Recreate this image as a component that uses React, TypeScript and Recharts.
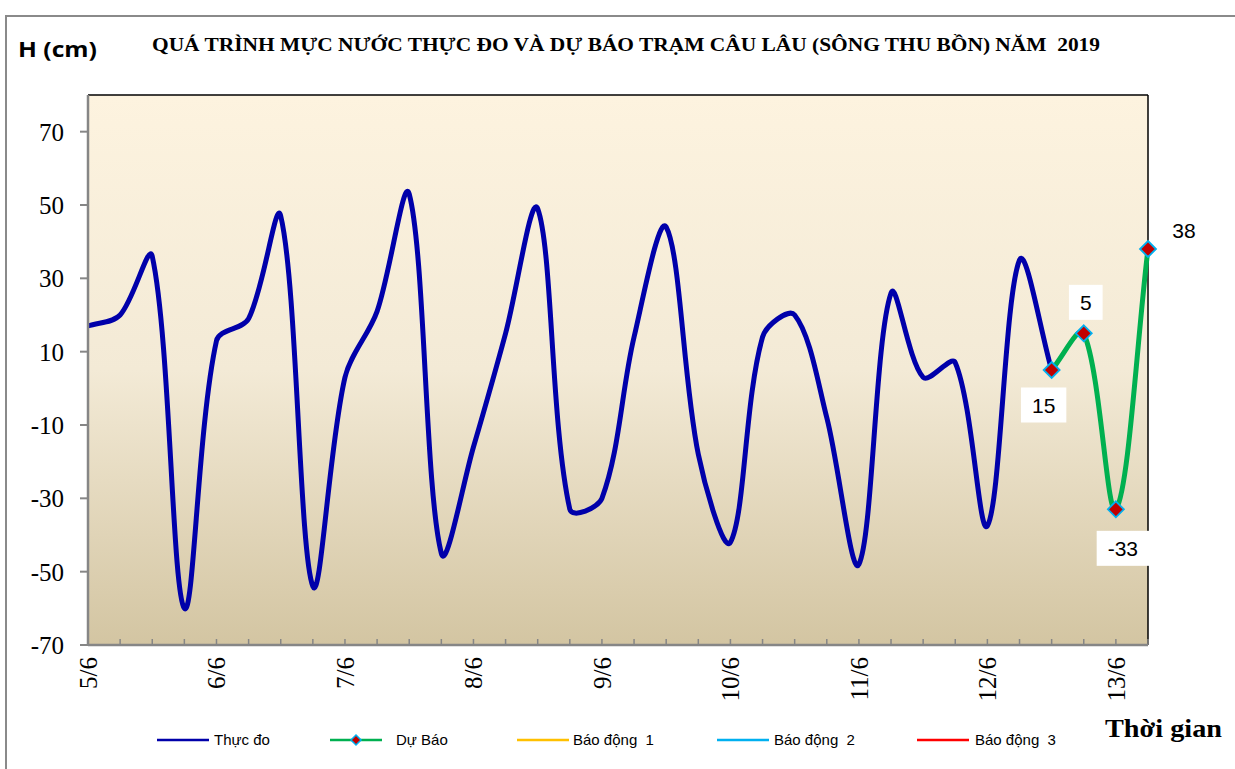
import React from 'react';
import { LineChart, Line, XAxis, YAxis, CartesianGrid, ReferenceLine, Legend, LabelList } from 'recharts';

const categories = [
  '5/6 00h', '5/6 06h', '5/6 12h', '5/6 18h',
  '6/6 00h', '6/6 06h', '6/6 12h', '6/6 18h',
  '7/6 00h', '7/6 06h', '7/6 12h', '7/6 18h',
  '8/6 00h', '8/6 06h', '8/6 12h', '8/6 18h',
  '9/6 00h', '9/6 06h', '9/6 12h', '9/6 18h',
  '10/6 00h', '10/6 06h', '10/6 12h', '10/6 18h',
  '11/6 00h', '11/6 06h', '11/6 12h', '11/6 18h',
  '12/6 00h', '12/6 06h', '12/6 12h', '12/6 18h',
  '13/6 00h', '13/6 06h',
];

const measured = [
  17, 20, 36, -60,
  13, 19, 47, -54,
  3, 21, 53, -45,
  -16, 15, 49, -33,
  -30, 14, 44, -18,
  -42, 14, 20, -8,
  -48, 26, 3, 7,
  -37.5, 35, 5, null,
  null, null,
];

const forecast = [
  null, null, null, null,
  null, null, null, null,
  null, null, null, null,
  null, null, null, null,
  null, null, null, null,
  null, null, null, null,
  null, null, null, null,
  null, null, 5, 15,
  -33, 38,
];

const forecastLabels = ['15', '5', '-33', '38'];
const yTicks = [-70, -50, -30, -10, 10, 30, 50, 70];
const legendNames = ['Thực đo', 'Dự Báo', 'Báo động  1', 'Báo động  2', 'Báo động  3'];
const legendColors = ['#0000AA', '#00B050', '#FFC000', '#00B0F0', '#FF0000'];
const titleText = 'QUÁ TRÌNH MỰC NƯỚC THỰC ĐO VÀ DỰ BÁO TRẠM CÂU LÂU (SÔNG THU BỒN) NĂM  2019';
const yAxisTitle = 'H (cm)';
const xAxisTitle = 'Thời gian';

// layout / style constants
const W = 1235;
const H = 769;
const SERIF = "'Liberation Serif', 'Times New Roman', serif";
const SANS = "'Liberation Sans', Arial, sans-serif";
const AXIS_GRAY = '#868686';
const labelOffsets = [[-8, 35], [2, -31], [7, 39], [36, -19]];
const legendX = [157, 330, 517, 717, 917];
const legendTextDx = [57, 66, 56, 57, 58];

const data = categories.map((t, i) => ({ t, measured: measured[i], forecast: forecast[i] }));
const firstForecastIndex = forecast.findIndex((v) => v !== null);

// Excel-like smoothed line: Bezier with tangents parallel to neighbour chord, scaled by chord lengths
const excelCurve = (context: any) => {
  let xs: number[] = [];
  let ys: number[] = [];
  return {
    areaStart() {},
    areaEnd() {},
    lineStart() {
      xs = [];
      ys = [];
    },
    point(x: number, y: number) {
      xs.push(+x);
      ys.push(+y);
    },
    lineEnd() {
      const n = xs.length;
      if (n === 0) return;
      context.moveTo(xs[0], ys[0]);
      if (n === 1) {
        context.lineTo(xs[0], ys[0]);
        return;
      }
      const dist = (i: number, j: number) => Math.hypot(xs[j] - xs[i], ys[j] - ys[i]);
      for (let i = 0; i < n - 1; i++) {
        const p0 = i > 0 ? i - 1 : i;
        const p3 = i + 2 < n ? i + 2 : i + 1;
        const d01 = dist(p0, i);
        const d12 = dist(i, i + 1);
        const d23 = dist(i + 1, p3);
        const s1 = d01 + d12 > 0 ? d12 / (d01 + d12) / 3 : 0;
        const s2 = d12 + d23 > 0 ? d12 / (d12 + d23) / 3 : 0;
        const c1x = xs[i] + (xs[i + 1] - xs[p0]) * s1;
        const c1y = ys[i] + (ys[i + 1] - ys[p0]) * s1;
        const c2x = xs[i + 1] - (xs[p3] - xs[i]) * s2;
        const c2y = ys[i + 1] - (ys[p3] - ys[i]) * s2;
        context.bezierCurveTo(c1x, c1y, c2x, c2y, xs[i + 1], ys[i + 1]);
      }
    },
  };
};

const dayLabel = (v: string) => (v.endsWith(' 00h') ? v.split(' ')[0] : '');

const renderXTick = (props: any) => {
  const { x, y, payload } = props;
  const label = dayLabel(String(payload.value));
  return (
    <g key={`xt-${payload.index}`}>
      <line x1={x} x2={x} y1={y} y2={y - 6} stroke={AXIS_GRAY} strokeWidth={1.5} />
      {label ? (
        <text
          transform={`translate(${x},${y + 12}) rotate(-90)`}
          textAnchor="end"
          dy="0.35em"
          fontSize={25}
          fontFamily={SERIF}
          fill="#000"
        >
          {label}
        </text>
      ) : null}
    </g>
  );
};

const renderDiamond = (props: any) => {
  const { cx, cy, index, value } = props;
  if (cx == null || cy == null || value == null) return <g key={`dd-${index}`} />;
  const r = 8;
  return (
    <polygon
      key={`dd-${index}`}
      points={`${cx},${cy - r} ${cx + r},${cy} ${cx},${cy + r} ${cx - r},${cy}`}
      fill="#C00000"
      stroke="#00B0F0"
      strokeWidth={1.8}
    />
  );
};

const renderForecastLabel = (props: any) => {
  const { x, y, value, index } = props;
  if (value == null || x == null || y == null) return null;
  const j = index - firstForecastIndex;
  if (j < 0 || j >= forecastLabels.length) return null;
  const txt = forecastLabels[j];
  const [dx, dy] = labelOffsets[j];
  const cx = x + dx;
  const cy = y + dy;
  const tw = txt.split('').reduce((s, ch) => s + (ch === '-' ? 7 : 11.7), 0);
  const bw = tw + 22;
  const bh = 35;
  return (
    <g key={`fl-${index}`}>
      <rect x={cx - bw / 2} y={cy - bh / 2} width={bw} height={bh} fill="#FFFFFF" />
      <text x={cx} y={cy} textAnchor="middle" dy="0.36em" fontSize={21} fontFamily={SANS} fill="#000">
        {txt}
      </text>
    </g>
  );
};

const renderLegend = () => (
  <svg width={W} height={24} style={{ display: 'block' }}>
    {legendNames.map((n, i) => (
      <g key={n} transform={`translate(${legendX[i]},12)`}>
        <line x1={0} x2={52} y1={0} y2={0} stroke={legendColors[i]} strokeWidth={2.5} />
        {i === 1 ? (
          <polygon points="26,-5 31,0 26,5 21,0" fill="#C00000" stroke="#00B0F0" strokeWidth={1.5} />
        ) : null}
        <text x={legendTextDx[i]} y={5} fontSize={15} fontFamily={SANS} fill="#000" style={{ whiteSpace: 'pre' }}>
          {n}
        </text>
      </g>
    ))}
  </svg>
);

export default function App() {
  return (
    <div style={{ position: 'absolute', left: 0, top: 0, width: W, height: H, overflow: 'hidden', background: '#fff' }}>
      <div
        style={{
          position: 'absolute',
          left: 5,
          top: 15,
          width: 1400,
          height: 900,
          borderLeft: '2px solid #8a8a8a',
          borderTop: '2px solid #8a8a8a',
        }}
      />
      <div style={{ position: 'absolute', left: 0, top: 0 }}>
        <LineChart width={W} height={H} data={data} margin={{ top: 95, right: 87, bottom: 64, left: 0 }}>
          <defs>
            <linearGradient id="plotBg" x1="0" y1="0" x2="0" y2="1">
              <stop offset="0%" stopColor="#FDF3DF" />
              <stop offset="50%" stopColor="#F3EAD6" />
              <stop offset="100%" stopColor="#D3C5A2" />
            </linearGradient>
          </defs>
          <CartesianGrid fill="url(#plotBg)" horizontal={false} vertical={false} />
          <XAxis
            dataKey="t"
            interval={0}
            height={60}
            tickSize={0}
            tickMargin={0}
            tickLine={false}
            axisLine={{ stroke: AXIS_GRAY, strokeWidth: 2.5 }}
            tick={renderXTick}
          />
          <YAxis
            type="number"
            domain={[-70, 80]}
            ticks={yTicks}
            interval={0}
            allowDataOverflow
            width={88}
            tickSize={8}
            tickMargin={16}
            axisLine={{ stroke: AXIS_GRAY, strokeWidth: 2.5 }}
            tickLine={{ stroke: AXIS_GRAY, strokeWidth: 2 }}
            tick={{ fontSize: 25, fill: '#000', fontFamily: SERIF }}
          />
          <ReferenceLine y={80} stroke="#000" strokeWidth={1.5} />
          <ReferenceLine x={categories[categories.length - 1]} stroke="#000" strokeWidth={1.5} />
          <Legend
            verticalAlign="middle"
            align="center"
            layout="horizontal"
            wrapperStyle={{ top: 728, left: 0, width: W, height: 24 }}
            content={renderLegend}
          />
          <Line
            dataKey="measured"
            type={excelCurve as any}
            stroke="#0000AA"
            strokeWidth={5}
            dot={false}
            activeDot={false}
            isAnimationActive={false}
          />
          <Line
            dataKey="forecast"
            type={excelCurve as any}
            stroke="#00B050"
            strokeWidth={5}
            dot={renderDiamond}
            activeDot={false}
            isAnimationActive={false}
          >
            <LabelList dataKey="forecast" content={renderForecastLabel} />
          </Line>
        </LineChart>
      </div>
      <svg width={W} height={H} style={{ position: 'absolute', left: 0, top: 0, pointerEvents: 'none' }}>
        <text x={152} y={51} fontSize={19} fontWeight="bold" fontFamily={SERIF} textLength={948} lengthAdjust="spacingAndGlyphs" style={{ whiteSpace: 'pre' }}>
          {titleText}
        </text>
        <text x={18} y={57} fontSize={21} fontWeight="bold" fontFamily="'Open Sans', 'Liberation Sans', sans-serif" textLength={79} lengthAdjust="spacingAndGlyphs">
          {yAxisTitle}
        </text>
        <text x={1105} y={737} fontSize={26} fontWeight="bold" fontFamily={SERIF} textLength={117} lengthAdjust="spacingAndGlyphs">
          {xAxisTitle}
        </text>
      </svg>
    </div>
  );
}
